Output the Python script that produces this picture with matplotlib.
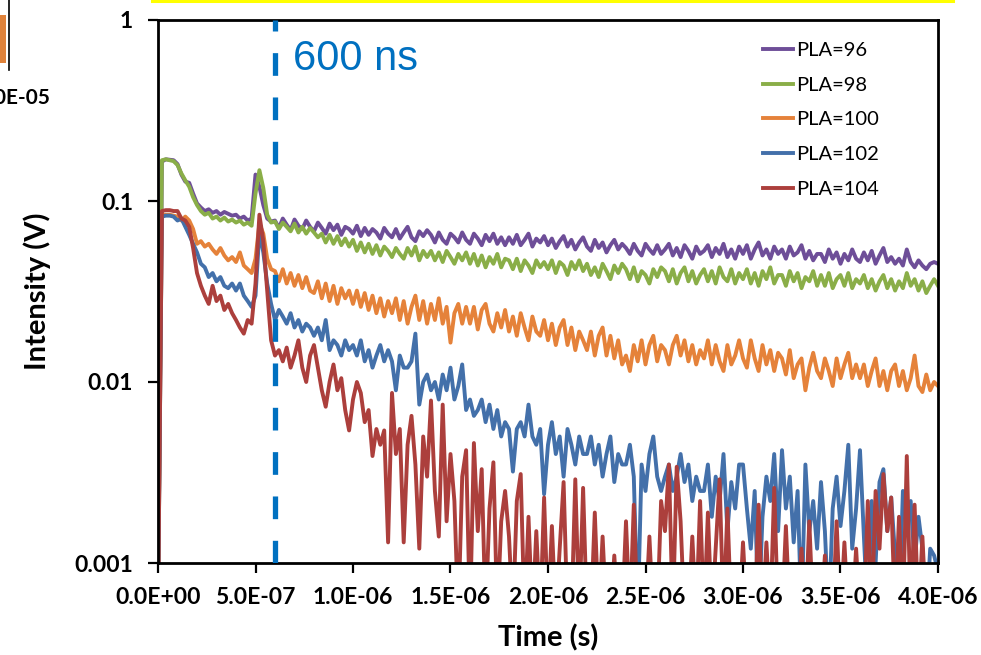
import numpy as np
import matplotlib
matplotlib.use("Agg")
import matplotlib.pyplot as plt
import matplotlib.transforms as mtransforms
from matplotlib.lines import Line2D
from matplotlib.patches import Rectangle
from matplotlib.font_manager import FontProperties

# Sample times (s): 20 ns step from 0 to 4 us
time_s = np.linspace(0.0, 4.0e-6, 201)

# Photodiode signal in mV for each PLA setting
pla96_mv = [
    0.5, 165, 170, 169, 168, 160, 140, 128, 126, 110,
    97, 92, 88, 90, 86, 88, 84, 87, 85, 83,
    84, 80, 82, 78, 80, 140, 120, 95, 80, 77,
    78, 71, 80, 74, 69, 79, 73, 70, 78, 72,
    68, 76, 71, 66, 75, 69, 74, 65, 72, 70,
    66, 73, 64, 71, 65, 70, 67, 62, 71, 66,
    63, 70, 62, 67, 72, 63, 60, 68, 64, 69,
    65, 59, 67, 61, 58, 66, 63, 59, 67, 61,
    58, 66, 62, 57, 65, 60, 66, 58, 63, 57,
    63, 58, 65, 57, 61, 66, 56, 62, 59, 64,
    57, 62, 55, 60, 64, 56, 61, 54, 59, 63,
    56, 53, 61, 55, 59, 52, 57, 61, 54, 58,
    55, 51, 58, 53, 50, 58, 54, 51, 57, 51,
    54, 58, 50, 55, 49, 57, 53, 48, 56, 51,
    53, 57, 49, 55, 51, 58, 49, 54, 48, 56,
    51, 57, 48, 54, 59, 50, 54, 48, 56, 51,
    54, 48, 56, 50, 52, 57, 48, 53, 47, 51,
    51, 46, 54, 48, 52, 45, 51, 47, 54, 48,
    46, 52, 47, 53, 45, 50, 55, 46, 49, 45,
    48, 44, 54, 46, 43, 47, 44, 42, 45, 46,
    45]

pla98_mv = [
    0.5, 168, 170, 168, 166, 158, 142, 130, 120, 105,
    95, 88, 84, 86, 80, 82, 78, 81, 77, 79,
    76, 78, 74, 76, 73, 110, 148, 118, 84, 76,
    77, 70, 76, 72, 68, 75, 67, 72, 66, 71,
    67, 63, 66, 59, 65, 58, 64, 57, 62, 56,
    61, 53, 59, 52, 58, 51, 57, 50, 56, 53,
    49, 55, 51, 48, 55, 50, 56, 47, 53, 49,
    53, 47, 52, 46, 53, 49, 45, 51, 47, 52,
    45, 51, 44, 50, 43, 49, 45, 51, 43, 48,
    47, 42, 48, 41, 47, 44, 40, 47, 43, 46,
    42, 47, 40, 46, 44, 39, 46, 42, 47, 41,
    45, 39, 43, 38, 45, 41, 37, 44, 40, 45,
    42, 37, 43, 36, 41, 39, 35, 42, 38, 43,
    41, 36, 42, 35, 40, 43, 36, 41, 35, 39,
    42, 36, 41, 35, 43, 38, 36, 42, 35, 40,
    37, 42, 35, 40, 34, 41, 37, 43, 35, 39,
    39, 34, 41, 36, 40, 33, 38, 36, 41, 34,
    39, 34, 40, 33, 37, 39, 34, 40, 33, 37,
    35, 39, 33, 37, 32, 36, 39, 33, 37, 32,
    36, 33, 40, 34, 37, 32, 36, 31, 34, 37,
    34]

pla100_mv = [
    0.5, 83, 84, 84, 83, 82, 78, 82, 78, 70,
    58, 60, 56, 58, 54, 51, 55, 50, 47, 49,
    46, 52, 44, 42, 40, 48, 75, 66, 48, 42,
    41, 36, 42, 35, 40, 34, 39, 33, 38, 32,
    31, 36, 29, 35, 28, 34, 27, 33, 29, 32,
    27, 32, 26, 31, 25, 30, 24, 29, 23, 28,
    24, 29, 22, 28, 21, 26, 30, 22, 28, 21,
    27, 22, 29, 21, 26, 16.5, 24, 27, 21, 26,
    21, 26, 19.5, 25, 27, 21, 19, 24, 20, 25,
    19, 23, 18, 24, 20, 17, 23, 19, 18, 22,
    17, 21, 16, 20, 22, 16, 20, 15, 19, 17,
    15, 19, 14, 18, 20, 14, 18, 13.5, 17, 12.5,
    14, 11.5, 16, 13, 17, 12.5, 16, 18, 13, 16,
    15, 12.5, 16, 18, 14, 17, 13, 16, 12.5, 15,
    13.5, 17, 12.5, 16, 13, 11.5, 16, 12.5, 14, 17,
    13.5, 12, 17, 13.5, 11.5, 16, 12.5, 15, 11.5, 14.5,
    13.5, 11, 15, 10.5, 12.5, 13.5, 9, 12, 14.5, 11.5,
    10.5, 13.5, 11.5, 9.5, 13.5, 10.5, 12.5, 14.5, 10.5, 12.5,
    10.5, 12.5, 9.5, 11.5, 13.5, 9.5, 11.5, 9, 11.5, 12.5,
    9.5, 11.5, 9, 10.5, 14, 9.5, 8.8, 11, 9, 10,
    9.5]

pla102_mv = [
    0.5, 82, 83, 83, 82, 78, 80, 72, 65, 58,
    52, 45, 43, 38, 40, 36, 38, 34, 33, 35,
    32, 35, 30, 28, 26, 30, 68, 52, 35, 27,
    22, 25, 23, 21, 24, 20, 22, 19, 21, 20,
    18, 20, 17, 22, 15, 17, 16, 14, 17, 15,
    16, 14, 17, 13, 15, 12, 14, 16, 13, 15,
    13, 9, 14, 12, 12, 13, 18.5, 7.5, 10, 11,
    9, 10, 8, 11, 9, 12, 8, 9.5, 12.5, 7,
    8, 6.5, 7, 8, 6, 7.5, 5.5, 7, 5, 6,
    5.5, 3.2, 5.5, 6, 5, 7.5, 5, 4.5, 5.5, 2.4,
    4.5, 6, 4, 5, 3, 5.5, 4.5, 3.5, 5, 4,
    4, 5, 3.5, 4.5, 3, 4, 5, 2.8, 4, 3.5,
    3.5, 4.5, 3, 0.5, 3.5, 2.5, 4, 5, 3, 2.5,
    3, 3.5, 2.5, 3, 4, 2.8, 3.5, 2.2, 3, 2.5,
    2.5, 3.5, 1.8, 3, 2.2, 4, 1.5, 2.8, 2, 3.5,
    3.5, 2, 1.2, 2.5, 0.5, 1.8, 3, 2.2, 4, 1.5,
    4.2, 2, 3, 1.3, 2.5, 0.5, 3.5, 1.5, 2.2, 1.2,
    2.8, 1.5, 0.5, 2, 3, 1.6, 2.5, 4.5, 1.2, 2,
    4.2, 1.4, 0.5, 2.2, 1, 2.8, 3.3, 1.5, 2.3, 1.1,
    0.5, 2.5, 1.8, 2.2, 1, 1.8, 1.2, 0.5, 1.2, 1.1,
    0.9]

pla104_mv = [
    0.5, 88, 89, 89, 88, 88, 80, 78, 72, 55,
    40, 34, 30, 27, 34, 28, 30, 25, 27, 24,
    22, 20, 18.5, 22, 21, 35, 84, 60, 32, 17,
    14, 15, 13, 15.5, 12, 14, 17, 12, 10, 14,
    16, 12, 9, 7.3, 10, 12.5, 9, 10.5, 7, 5.4,
    8, 10, 8.7, 6, 7, 3.9, 5.5, 4.5, 5.4, 1.3,
    8.7, 4, 5.5, 1.3, 4.5, 6.5, 3.5, 1.2, 5, 3,
    7.9, 2.5, 1.4, 7.5, 1.7, 4, 2.2, 0.5, 3, 4.2,
    0.5, 4.6, 1.5, 3.3, 0.5, 2, 3.6, 0.5, 1.7, 2.5,
    1.4, 0.5, 2.2, 3.1, 0.5, 1.8, 0.5, 1.5, 0.5, 2.3,
    0.5, 1.6, 0.5, 1.2, 2.8, 0.5, 0.5, 2.9, 0.5, 2.6,
    0.5, 0.5, 1.9, 0.5, 1.4, 0.5, 0.5, 1.1, 0.5, 0.5,
    1.7, 0.5, 2.1, 0.5, 0.5, 0.5, 1.4, 0.5, 0.5, 2.2,
    1.5, 3.5, 0.5, 3.4, 1.7, 0.5, 0.5, 1.4, 0.5, 2.2,
    0.5, 1.9, 0.5, 1.2, 2.9, 0.5, 2.0, 0.5, 0.5, 0.5,
    1.3, 0.5, 0.5, 0.5, 2.1, 0.5, 1.3, 0.5, 2.6, 0.5,
    0.5, 1.6, 0.5, 0.5, 0.5, 1.2, 0.5, 1.7, 0.5, 0.5,
    0.5, 1.1, 0.5, 0.5, 1.7, 0.5, 1.3, 0.5, 0.5, 1.2,
    0.5, 0.5, 2.2, 0.5, 2.5, 1.2, 3.1, 1.5, 2.3, 0.5,
    1.8, 0.5, 3.9, 0.5, 2.1, 0.5, 1.4, 0.5, 0.5, 0.5,
    0.5]

series_labels = ["PLA=96", "PLA=98", "PLA=100", "PLA=102", "PLA=104"]
series_mv = [pla96_mv, pla98_mv, pla100_mv, pla102_mv, pla104_mv]
series_colors = ["#6E4E98", "#8AAE48", "#E5823A", "#4370AA", "#AC3F3C"]

marker_time_s = 600e-9
marker_label = "600 ns"

x_ticks = [0.0, 0.5e-6, 1.0e-6, 1.5e-6, 2.0e-6, 2.5e-6, 3.0e-6, 3.5e-6, 4.0e-6]
y_ticks = [0.001, 0.01, 0.1, 1]
y_tick_labels = ["0.001", "0.01", "0.1", "1"]

W, H = 981, 655
fig = plt.figure(figsize=(W / 100, H / 100), dpi=100)
ax = fig.add_axes([158 / W, 1 - 563 / H, 780 / W, 543 / H])

for label, mv, color in zip(series_labels, series_mv, series_colors):
    volts = np.asarray(mv, dtype=float) / 1000.0
    ax.plot(time_s, volts, color=color, lw=2.8, label=label,
            solid_joinstyle="round")

ax.axvline(marker_time_s, color="#0070C0", lw=3.8,
           linestyle=(0, (4.3, 4.1)), zorder=5)
blend = mtransforms.blended_transform_factory(ax.transData, ax.transAxes)
ax.text(marker_time_s + 0.09e-6, 0.928, marker_label, color="#0070C0",
        fontsize=30, family="Liberation Sans", va="center", ha="left",
        transform=blend)

ax.set_yscale("log")
ax.set_xlim(0, 4.0e-6)
ax.set_ylim(0.001, 1)
ax.set_xticks(x_ticks)
ax.set_xticklabels(["{:.1E}".format(v) for v in x_ticks])
ax.set_yticks(y_ticks)
ax.set_yticklabels(y_tick_labels)
ax.yaxis.set_minor_locator(matplotlib.ticker.NullLocator())

tick_fp = FontProperties(family="Lato", weight="bold", size=16.5)
for lab in ax.get_xticklabels() + ax.get_yticklabels():
    lab.set_fontproperties(tick_fp)
ax.tick_params(axis="both", direction="out", length=7, width=1.6,
               color="black")
ax.tick_params(axis="x", pad=10)
ax.tick_params(axis="y", pad=11)

for sp in ax.spines.values():
    sp.set_linewidth(2.0)
    sp.set_color("black")

ax.set_xlabel("Time (s)", family="Lato", weight="bold", fontsize=21)
ax.set_ylabel("Intensity (V)", family="Lato", weight="bold", fontsize=21)
ax.xaxis.set_label_coords(0.5, -0.112)
ax.yaxis.set_label_coords(-0.137, 0.5)

ax.legend(loc="upper left", bbox_to_anchor=(763 / W, 1 - 42 / H),
          bbox_transform=fig.transFigure, frameon=False,
          prop=dict(family="Lato", size=14.5), handlelength=1.5,
          handletextpad=0.15, labelspacing=0.87, borderpad=0,
          borderaxespad=0)

# Neighbouring panel edges visible around the chart
fig.add_artist(Line2D([152 / W, 953 / W], [1 - 1 / H, 1 - 1 / H],
                      color="#FFFF00", lw=2.2, transform=fig.transFigure))
fig.add_artist(Rectangle((0, 1 - 63 / H), 6 / W, 48 / H, color="#E0823A",
                         transform=fig.transFigure, lw=0))
fig.add_artist(Line2D([8.5 / W, 8.5 / W], [1.0, 1 - 70 / H], color="black",
                      lw=1.2, transform=fig.transFigure))
fig.text(50 / W, 1 - 98 / H, "1.0E-05", family="Lato", weight="bold",
         fontsize=15, ha="right", va="center")

fig.savefig("out.png", dpi=100)
